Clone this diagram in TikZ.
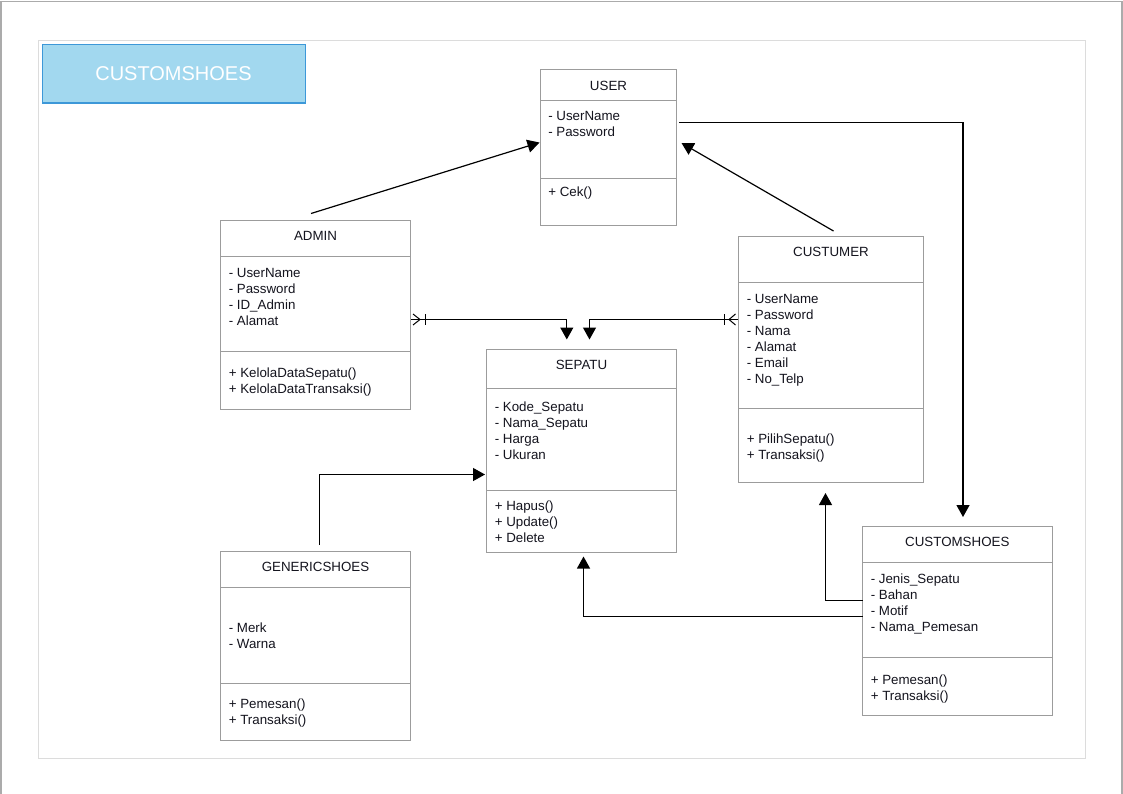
\documentclass[tikz,border=0pt]{standalone}
\usepackage{fontspec}
\setmainfont{Liberation Sans}
\usetikzlibrary{arrows.meta,fit}
\definecolor{boxgray}{HTML}{9C9C9C}
\definecolor{framegray}{HTML}{DCDCDC}
\definecolor{outergray}{HTML}{ABABAB}
\definecolor{titlefill}{HTML}{A2D8EF}
\definecolor{titledraw}{HTML}{3D98D8}
\definecolor{txt}{HTML}{14141E}
\tikzset{
  clsbox/.style={draw=boxgray, line width=0.75pt, inner sep=0pt, fill=white},
  sepline/.style={draw=boxgray, line width=0.75pt},
  lbl/.style={font=\fontsize{10}{12}\selectfont, text=txt, inner sep=0pt},
  arr/.style={-{Triangle[length=9pt,width=9.75pt]}, line width=0.9pt, black},
  plainline/.style={line width=0.9pt, black},
  crow/.style={line width=0.75pt, black},
}
\newcommand\clslines[4]{%
  \foreach \t [count=\i] in {#4} {\node[lbl,anchor=base west] (#1\i) at (#2,{#3+16*(\i-1)}) {\t};}}
\begin{document}
\begin{tikzpicture}[x=0.75pt,y=-0.75pt]
\useasboundingbox (0,0) rectangle (1123,793);
% outer and inner frames
\draw[outergray, line width=1.2pt] (1,820) -- (1,1.5) -- (1122,1.5) -- (1122,820);
\draw[framegray, line width=0.75pt] (38.5,40.5) rectangle (1085.5,758);
% title
\node[draw=titledraw, fill=titlefill, line width=0.9pt, inner sep=0pt, fit={(42.5,44.5) (305.5,103)}] (title) {};
\node[font=\fontsize{15}{18}\selectfont, text=white, anchor=base, inner sep=0pt] (titletext) at (173.5,80.5) {CUSTOMSHOES};

% USER
\node[clsbox, fit={(540.5,69.5) (676.5,225)}] (user) {};
\draw[sepline] (540.5,100) -- (676.5,100);
\draw[sepline] (540.5,178) -- (676.5,178);
\node[lbl, anchor=base] (usert) at (608.5,90) {USER};
\clslines{usera}{548}{120}{- UserName,- Password}
\clslines{userm}{548}{196}{+ Cek()}

% ADMIN
\node[clsbox, fit={(220.5,220.5) (410.5,409)}] (admin) {};
\draw[sepline] (220.5,256) -- (410.5,256);
\draw[sepline] (220.5,351) -- (410.5,351);
\node[lbl, anchor=base] (admint) at (315.5,240) {ADMIN};
\clslines{admina}{228.5}{277}{- UserName,- Password,- ID\_Admin,- Alamat}
\clslines{adminm}{228.5}{377.5}{+ KelolaDataSepatu(),+ KelolaDataTransaksi()}

% CUSTUMER
\node[clsbox, fit={(738.5,236.5) (923.5,482.5)}] (cust) {};
\draw[sepline] (738.5,282.5) -- (923.5,282.5);
\draw[sepline] (738.5,408.5) -- (923.5,408.5);
\node[lbl, anchor=base] (custt) at (831,256) {CUSTUMER};
\clslines{custa}{746.5}{303}{- UserName,- Password,- Nama,- Alamat,- Email,- No\_Telp}
\clslines{custm}{746.5}{443}{+ PilihSepatu(),+ Transaksi()}

% SEPATU
\node[clsbox, fit={(486.5,349.5) (676.5,552.5)}] (sepatu) {};
\draw[sepline] (486.5,388.5) -- (676.5,388.5);
\draw[sepline] (486.5,490.5) -- (676.5,490.5);
\node[lbl, anchor=base] (sepatut) at (581.5,369) {SEPATU};
\clslines{sepatua}{494.5}{411.5}{- Kode\_Sepatu,- Nama\_Sepatu,- Harga,- Ukuran}
\clslines{sepatum}{494.5}{510.5}{+ Hapus(),+ Update(),+ Delete}

% GENERICSHOES
\node[clsbox, fit={(220.5,551.5) (410.5,740)}] (generic) {};
\draw[sepline] (220.5,587.5) -- (410.5,587.5);
\draw[sepline] (220.5,683) -- (410.5,683);
\node[lbl, anchor=base] (generict) at (315.5,571) {GENERICSHOES};
\clslines{generica}{228.5}{632}{- Merk,- Warna}
\clslines{genericm}{228.5}{708.5}{+ Pemesan(),+ Transaksi()}

% CUSTOMSHOES
\node[clsbox, fit={(862.5,526.5) (1052,715)}] (custom) {};
\draw[sepline] (862.5,562) -- (1052,562);
\draw[sepline] (862.5,657.5) -- (1052,657.5);
\node[lbl, anchor=base] (customt) at (957.3,546.5) {CUSTOMSHOES};
\clslines{customa}{870.5}{583.3}{- Jenis\_Sepatu,- Bahan,- Motif,- Nama\_Pemesan}
\clslines{customm}{870.5}{684}{+ Pemesan(),+ Transaksi()}

% connectors
\coordinate (c1s) at (311,213.5);
\coordinate (c1e) at (539.5,142.5);
\draw[arr] (c1s) -- (c1e);

\coordinate (c2s) at (833.5,231);
\coordinate (c2e) at (681.5,143);
\draw[arr] (c2s) -- (c2e);

\coordinate (c3s) at (679,122.5);
\coordinate (c3e) at (963,517);
\draw[arr] (c3s) -| (c3e);

\coordinate (c4s) at (411,319.5);
\coordinate (c4e) at (566.8,339.5);
\draw[arr] (c4s) -| (c4e);
\draw[crow] (413,314) -- (420,319.5) -- (413,325);
\draw[crow] (425,314) -- (425,325);

\coordinate (c5s) at (738,319.5);
\coordinate (c5e) at (589.5,339.5);
\draw[arr] (c5s) -| (c5e);
\draw[crow] (735.5,314) -- (729,319.5) -- (735.5,325);
\draw[crow] (724.3,314) -- (724.3,325);

\coordinate (c6s) at (319.3,545);
\coordinate (c6e) at (485,474.5);
\draw[arr] (c6s) |- (c6e);

\coordinate (c7s) at (862.5,600.5);
\coordinate (c7e) at (825.5,493);
\draw[arr] (c7s) -| (c7e);

\coordinate (c8s) at (862.5,616.5);
\coordinate (c8e) at (583.5,556.5);
\draw[arr] (c8s) -| (c8e);
\end{tikzpicture}
\end{document}
